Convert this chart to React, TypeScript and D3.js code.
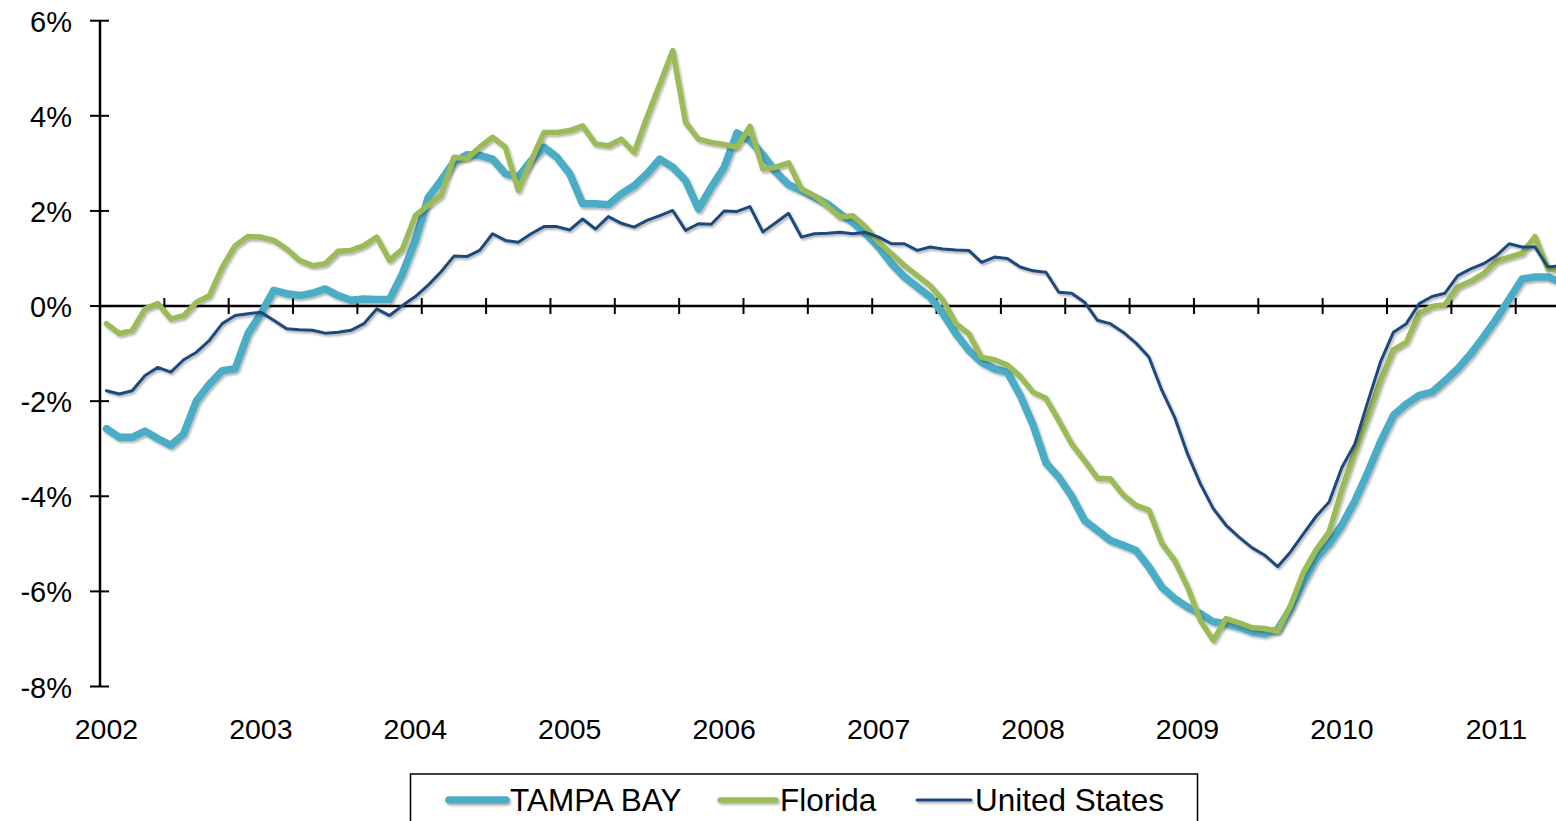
import React from "react";
import * as d3 from "d3";

const width = 1556;
const height = 821;

// monthly series, Jan 2002 .. Jun 2011 (percent change)
const tampaBay = [
  -2.58, -2.76, -2.76, -2.63, -2.79, -2.93, -2.69, -1.99, -1.64, -1.36, -1.32, -0.58,
  -0.16, 0.33, 0.26, 0.22, 0.27, 0.36, 0.22, 0.12, 0.15, 0.14, 0.14, 0.68,
  1.38, 2.28, 2.64, 3.03, 3.18, 3.17, 3.09, 2.78, 2.71, 3.06, 3.34, 3.13,
  2.78, 2.15, 2.15, 2.13, 2.36, 2.53, 2.78, 3.09, 2.92, 2.64, 2.04, 2.5,
  2.92, 3.64, 3.48, 3.18, 2.82, 2.55, 2.43, 2.29, 2.15, 1.94, 1.76, 1.52,
  1.24, 0.89, 0.61, 0.4, 0.19, -0.16, -0.58, -0.93, -1.18, -1.32, -1.39, -1.88,
  -2.5, -3.3, -3.6, -4.0, -4.51, -4.72, -4.93, -5.03, -5.14, -5.49, -5.91, -6.15,
  -6.33, -6.47, -6.64, -6.68, -6.75, -6.85, -6.89, -6.8, -6.36, -5.8, -5.3, -5.0,
  -4.6, -4.1, -3.5, -2.85, -2.3, -2.06, -1.88, -1.81, -1.57, -1.32, -1.01, -0.65,
  -0.27, 0.15, 0.57, 0.61, 0.61, 0.5,
];

const florida = [
  -0.37, -0.58, -0.51, -0.06, 0.05, -0.27, -0.2, 0.08, 0.22, 0.82, 1.27, 1.46,
  1.45, 1.38, 1.2, 0.96, 0.85, 0.89, 1.15, 1.17, 1.27, 1.45, 0.96, 1.2,
  1.9, 2.12, 2.33, 3.13, 3.1, 3.34, 3.55, 3.34, 2.43, 3.06, 3.65, 3.65,
  3.69, 3.79, 3.41, 3.37, 3.51, 3.23, 3.97, 4.67, 5.37, 3.86, 3.51, 3.44,
  3.4, 3.34, 3.78, 2.88, 2.92, 3.01, 2.46, 2.32, 2.11, 1.87, 1.9, 1.66,
  1.34, 1.1, 0.85, 0.64, 0.43, 0.12, -0.37, -0.58, -1.08, -1.13, -1.24, -1.48,
  -1.81, -1.94, -2.41, -2.9, -3.25, -3.62, -3.63, -3.97, -4.19, -4.29, -4.99, -5.35,
  -5.91, -6.61, -7.03, -6.57, -6.66, -6.76, -6.78, -6.84, -6.3, -5.6, -5.12, -4.75,
  -3.85, -3.07, -2.34, -1.57, -0.92, -0.76, -0.16, -0.01, 0.03, 0.4, 0.52, 0.68,
  0.94, 1.03, 1.11, 1.46, 0.78, 0.75,
];

const unitedStates = [
  -1.78, -1.85, -1.78, -1.46, -1.29, -1.39, -1.13, -0.97, -0.72, -0.37, -0.2, -0.16,
  -0.13, -0.3, -0.48, -0.5, -0.51, -0.57, -0.55, -0.51, -0.37, -0.06, -0.2, 0.01,
  0.2, 0.44, 0.72, 1.05, 1.04, 1.17, 1.52, 1.38, 1.34, 1.52, 1.67, 1.67,
  1.6, 1.83, 1.62, 1.88, 1.74, 1.66, 1.8, 1.9, 2.01, 1.59, 1.73, 1.72,
  2.0, 1.99, 2.09, 1.56, 1.75, 1.95, 1.45, 1.52, 1.53, 1.55, 1.52, 1.55,
  1.45, 1.31, 1.31, 1.17, 1.24, 1.2, 1.18, 1.17, 0.92, 1.03, 1.0, 0.82,
  0.74, 0.71, 0.29, 0.27, 0.08, -0.3, -0.37, -0.55, -0.78, -1.07, -1.77, -2.34,
  -3.11, -3.74, -4.26, -4.61, -4.86, -5.08, -5.24, -5.48, -5.17, -4.79, -4.42, -4.12,
  -3.39, -2.9, -2.02, -1.17, -0.55, -0.37, 0.05, 0.2, 0.27, 0.64, 0.78, 0.89,
  1.06, 1.31, 1.24, 1.24, 0.82, 0.85,
];

const years = ["2002", "2003", "2004", "2005", "2006", "2007", "2008", "2009", "2010", "2011"];
const yTicks = [6, 4, 2, 0, -2, -4, -6, -8];

const series = [
  { name: "TAMPA BAY", values: tampaBay, color: "#4BACC6", width: 7.5 },
  { name: "Florida", values: florida, color: "#9BBB59", width: 5.5 },
  { name: "United States", values: unitedStates, color: "#1F497D", width: 3 },
];

const nCats = 114;
const x = d3.scaleLinear().domain([0, nCats]).range([100, 100 + nCats * 12.87]);
const y = d3.scaleLinear().domain([-8, 6]).range([686.5, 20.7]);

const line = d3
  .line<number>()
  .x((_, i) => x(i + 0.5))
  .y((d) => y(d));

const font = "'Liberation Sans', Arial, sans-serif";

const legendItems = [
  { lx: 449, tx: 510 },
  { lx: 720, tx: 780 },
  { lx: 917, tx: 975 },
];

const App = () => {
  const catTicks = d3.range(0, nCats + 1, 5);
  return (
    <>
      <style>{`body{margin:0}`}</style>
      <svg width={width} height={height} style={{ display: "block", background: "#fff" }}>
        <defs>
          <filter id="shadow" filterUnits="userSpaceOnUse" x={0} y={0} width={width} height={height}>
            <feDropShadow dx="1.5" dy="2" stdDeviation="1.2" floodColor="#000" floodOpacity="0.3" />
          </filter>
        </defs>

        {/* y axis */}
        <line x1={x(0)} x2={x(0)} y1={y(6)} y2={y(-8)} stroke="#000" strokeWidth={2.5} />
        {yTicks.map((t) => (
          <g key={t}>
            <line x1={90} x2={109} y1={y(t)} y2={y(t)} stroke="#000" strokeWidth={2} />
            <text
              x={72}
              y={y(t) + 11}
              textAnchor="end"
              fontFamily={font}
              fontSize={29}
              fill="#000"
            >
              {t + "%"}
            </text>
          </g>
        ))}

        {/* category axis at zero */}
        <line x1={x(0)} x2={width} y1={y(0)} y2={y(0)} stroke="#000" strokeWidth={2.5} />
        {catTicks.map((c) => (
          <line key={c} x1={x(c)} x2={x(c)} y1={y(0) - 8} y2={y(0) + 8} stroke="#000" strokeWidth={2} />
        ))}
        {years.map((yr, k) => (
          <text
            key={yr}
            x={x(k * 12 + 0.5)}
            y={739}
            textAnchor="middle"
            fontFamily={font}
            fontSize={28.5}
            fill="#000"
          >
            {yr}
          </text>
        ))}

        {/* series */}
        {series.map((s) => (
          <path
            key={s.name}
            d={line(s.values) || ""}
            fill="none"
            stroke={s.color}
            strokeWidth={s.width}
            strokeLinejoin="round"
            strokeLinecap="round"
            filter="url(#shadow)"
          />
        ))}

        {/* legend */}
        <rect x={410.5} y={774} width={787} height={70} fill="#fff" stroke="#000" strokeWidth={1.5} />
        {series.map((s, i) => (
          <g key={s.name}>
            <line
              x1={legendItems[i].lx}
              x2={legendItems[i].tx - 4}
              y1={800}
              y2={800}
              stroke={s.color}
              strokeWidth={s.width}
              strokeLinecap="round"
              filter="url(#shadow)"
            />
            <text x={legendItems[i].tx} y={811} fontFamily={font} fontSize={31.5} fill="#000">
              {s.name}
            </text>
          </g>
        ))}
      </svg>
    </>
  );
};

export default App;
